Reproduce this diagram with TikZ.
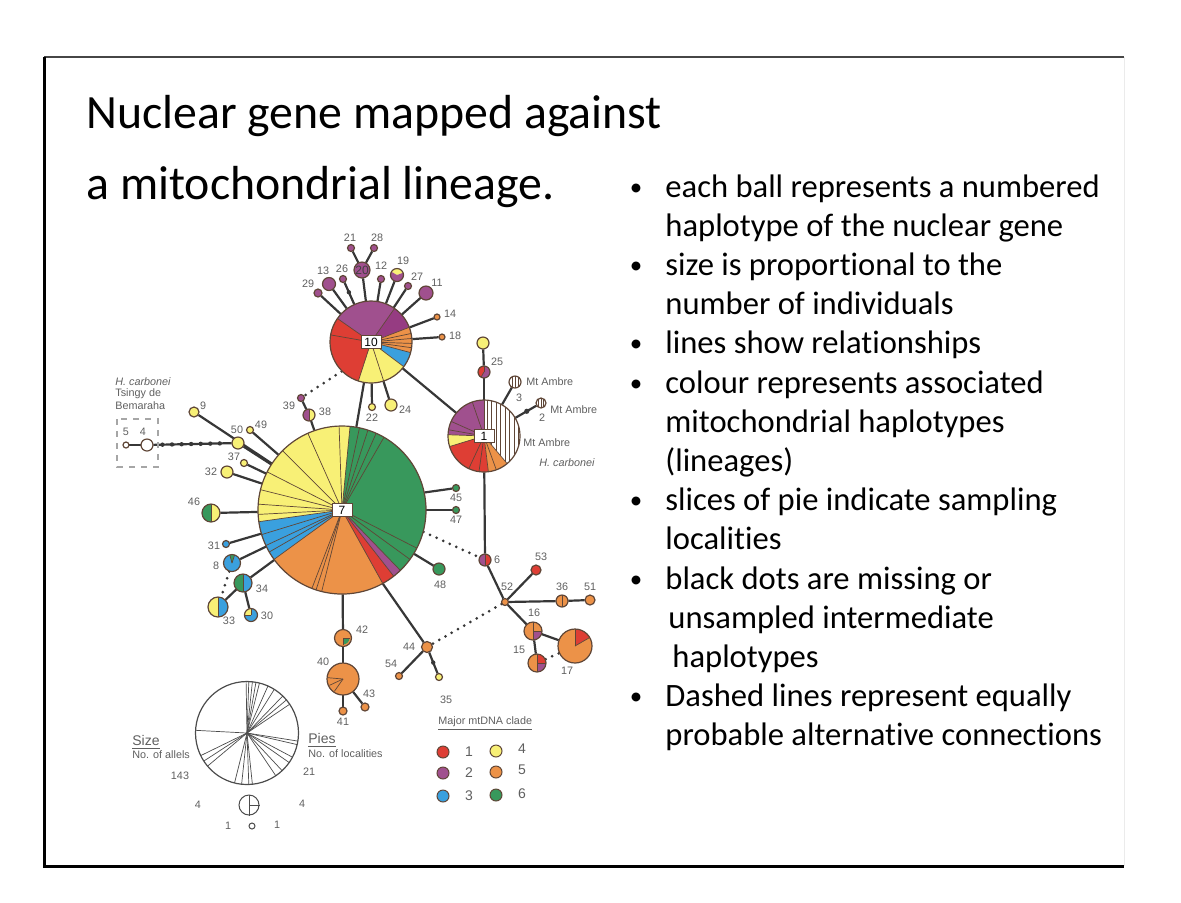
\documentclass[tikz,border=0pt]{standalone}
\usepackage{fontspec}
\setmainfont[Ligatures=NoCommon]{Carlito}
\newfontfamily\diagfont{Liberation Sans}
\usetikzlibrary{calc}
\definecolor{cR}{RGB}{222,62,52}
\definecolor{cP}{RGB}{160,80,142}
\definecolor{cPd}{RGB}{150,60,130}
\definecolor{cB}{RGB}{58,160,222}
\definecolor{cY}{RGB}{248,240,118}
\definecolor{cO}{RGB}{236,146,72}
\definecolor{cG}{RGB}{56,152,92}
\definecolor{ol}{RGB}{95,70,55}
\definecolor{lc}{RGB}{55,55,55}
\definecolor{tg}{RGB}{95,95,95}
\definecolor{topline}{RGB}{70,70,70}
\newcommand\hpie[3]{\foreach \a/\b/\cc in {#3}{\fill[\cc] (#1.center) -- ++(\a:#2) arc[start angle=\a,end angle=\b,radius=#2] -- cycle;}}
\newcommand\hrays[3]{\foreach \a in {#3}{\draw[ray] (#1.center) -- ++(\a:#2);}}
\newcommand\hring[2]{\draw[ring] (#1.center) circle[radius=#2];}
\begin{document}
\begin{tikzpicture}[x=0.5pt,y=0.5pt,
 hap/.style={circle,inner sep=0pt,minimum size=#1pt},
 con/.style={draw=lc,line width=1.1pt},
 dots/.style={draw=lc,line width=1.5pt,line cap=round,dash pattern=on 0pt off 3.6pt},
 ray/.style={draw=ol,line width=0.35pt},
 ring/.style={draw=ol,line width=0.6pt},
 lab/.style={font=\diagfont\fontsize{5.4}{6}\selectfont,text=tg,inner sep=0pt},
 bdot/.style={circle,fill=lc,inner sep=0pt,minimum size=2.2pt},
 hbox/.style={draw=ol,fill=white,line width=0.5pt,inner sep=0pt,minimum width=10pt,minimum height=6.5pt,font=\diagfont\fontsize{6}{6}\selectfont},
 bul/.style={anchor=base west,inner sep=0pt,font=\fontsize{16.3}{19.6}\selectfont},
 bulmark/.style={anchor=base,inner sep=0pt,font=\fontsize{12.5}{15}\selectfont},
 ttl/.style={anchor=base west,inner sep=0pt,font=\fontsize{23.9}{28}\selectfont},
 key/.style={circle,inner sep=0pt,minimum size=6pt,draw=ol,line width=0.5pt},
 keyt/.style={font=\diagfont\fontsize{7}{8}\selectfont,text=tg,inner sep=0pt},
]
\useasboundingbox (0,0) rectangle (1181,-902);
% slide frame
\draw[line width=1pt,topline] (44,-57) -- (1124,-57);
\draw[line width=1.5pt] (44,-56.5) -- (44,-866) -- (1124,-866);
\draw[line width=0.5pt,black!8] (1124,-57) -- (1124,-866);
% title
\node[ttl] (title1) at (86,-128) {Nuclear gene mapped against};
\node[ttl] (title2) at (86,-199) {a mitochondrial lineage.};
% bullets
\foreach \i/\y in {1/195,3/273.4,5/351.8,6/391,9/508.6,11/587,14/704.6}
  \node[bulmark] (bu\i) at (636,-\y) {•};
\node[bul] (t1) at (665,-197) {each ball represents a numbered};
\node[bul] (t2) at (665,-236.2) {haplotype of the nuclear gene};
\node[bul] (t3) at (665,-275.4) {size is proportional to the};
\node[bul] (t4) at (665,-314.6) {number of individuals};
\node[bul] (t5) at (665,-353.8) {lines show relationships};
\node[bul] (t6) at (665,-393) {colour represents associated};
\node[bul] (t7) at (665,-432.2) {mitochondrial haplotypes};
\node[bul] (t8) at (665,-471.4) {(lineages)};
\node[bul] (t9) at (665,-510.6) {slices of pie indicate sampling};
\node[bul] (t10) at (665,-549.8) {localities};
\node[bul] (t11) at (665,-589) {black dots are missing or};
\node[bul] (t12) at (668,-628.2) {unsampled intermediate};
\node[bul] (t13) at (672,-667.4) {haplotypes};
\node[bul] (t14) at (665,-706.6) {Dashed lines represent equally};
\node[bul] (t15) at (665,-745.8) {probable alternative connections};
% ---------- haplotype nodes ----------
\node[hap=84] (n7) at (342,-510) {};
\node[hap=41] (n10) at (371,-342) {};
\node[hap=36] (n1) at (484,-436) {};
\node[hap=4] (n29) at (318,-293) {};
\node[hap=6.5] (n13) at (329,-284) {};
\node[hap=3.5] (n26) at (343,-279) {};
\node[hap=8] (n20) at (362,-270) {};
\node[hap=3.5] (n21) at (351,-248) {};
\node[hap=3.5] (n28) at (374,-248) {};
\node[hap=3.5] (n12) at (381,-279) {};
\node[hap=6.5] (n19) at (397,-275) {};
\node[hap=3.5] (n27) at (408,-286) {};
\node[hap=7] (n11) at (426,-293) {};
\node[hap=3] (n14) at (437,-317) {};
\node[hap=3] (n18) at (442,-337) {};
\node[hap=3.5] (n22) at (372,-407) {};
\node[hap=6] (n24) at (391,-405) {};
\node[hap=3.5] (n39) at (301,-398) {};
\node[hap=6] (n38) at (309,-415) {};
\node[hap=6] (n3) at (515,-382) {};
\node[hap=5] (n2) at (541,-403) {};
\node[hap=6] (n25) at (484,-372) {};
\node[hap=6] (n25a) at (483,-343) {};
\node[hap=6] (n6) at (485,-560) {};
\node[hap=3.5] (n45) at (456,-488) {};
\node[hap=3.5] (n47) at (456,-510) {};
\node[hap=6] (n48) at (439,-569) {};
\node[hap=3.5] (n52) at (505,-602) {};
\node[hap=5] (n53) at (536,-570) {};
\node[hap=6] (n36) at (562,-601) {};
\node[hap=5] (n51) at (590,-600) {};
\node[hap=9] (n16) at (533,-631) {};
\node[hap=9] (n15) at (537,-663) {};
\node[hap=17] (n17) at (575,-646) {};
\node[hap=5.5] (n44) at (427,-647) {};
\node[hap=3.5] (n54) at (399,-676) {};
\node[hap=3.5] (n35) at (439,-677) {};
\node[hap=8.5] (n42) at (343,-638) {};
\node[hap=16] (n40) at (343,-679) {};
\node[hap=4] (n41) at (343,-711) {};
\node[hap=4] (n43) at (365,-707) {};
\node[hap=9] (n46) at (211,-513) {};
\node[hap=3.5] (n31) at (226,-544) {};
\node[hap=8.5] (n8) at (232,-563) {};
\node[hap=9] (n34) at (243,-583) {};
\node[hap=10] (n33) at (218,-607) {};
\node[hap=6.5] (n30) at (251,-615) {};
\node[hap=6] (n32) at (227,-472) {};
\node[hap=3.5] (n37) at (244,-463) {};
\node[hap=6] (n50) at (238,-443) {};
\node[hap=3.5] (n49) at (250,-430) {};
\node[hap=5] (n9) at (194,-412) {};
\node[hap=6] (n4) at (147,-445) {};
\node[hap=3] (n5) at (126,-445) {};
% ---------- connectors ----------
\foreach \t in {n29,n13,n26,n20,n12,n19,n27,n11,n14,n18,n22,n24}
  \draw[con] (n10) -- (\t);
\draw[con] (n20) -- (n21);
\draw[con] (n20) -- (n28);
\draw[con] (n10) -- (n7);
\draw[con] (n10) -- (n1);
\draw[dots] (n10.225) -- (n39);
\draw[con] (n39) -- (n38);
\draw[con] (n38) -- (n7);
\draw[con] (n1) -- (n3);
\draw[con] (n1) -- (n2);
\draw[con] (n1) -- (n25);
\draw[con] (n25) -- (n25a);
\draw[con] (n1) -- (n6);
\draw[con] (n7.12) -- (n45);
\draw[con] (n7) -- (n47);
\draw[con] (n7) -- (n48);
\draw[dots] (n7.-15) -- (n6);
\draw[con] (n7.-61) -- (n44);
\draw[con] (n7) -- (n42);
\draw[con] (n42) -- (n40);
\draw[con] (n40) -- (n41);
\draw[con] (n40) -- (n43);
\foreach \t in {n46,n31,n8,n34,n32,n37,n50,n49,n9}
  \draw[con] (n7) -- (\t);
\draw[con] (n34) -- (n33);
\draw[con] (n34) -- (n30);
\draw[dots] (n8) -- (n33);
\draw[con] (n6) -- (n52);
\draw[con] (n52) -- (n53);
\draw[con] (n52) -- (n36);
\draw[con] (n36) -- (n51);
\draw[con] (n52) -- (n16);
\draw[con] (n16) -- (n15);
\draw[con] (n16) -- (n17);
\draw[dots] (n15) -- (n17);
\draw[dots] (n52) -- (n44);
\draw[con] (n44) -- (n54);
\draw[con] (n44) -- (n35);
\draw[con] (n4) -- (n50);
\draw[con,line width=0.8pt] (n5) -- (n4);
% missing intermediate haplotypes (black dots)
\node[bdot] (m1) at ($(n10)!0.79!(n26)$) {};
\node[bdot,minimum size=2.6pt] (m2) at ($(n1)!0.75!(n2)$) {};
\node[bdot] (m3) at ($(n44)!0.52!(n35)$) {};
\foreach \f [count=\k] in {0.17,0.275,0.38,0.485,0.59,0.695,0.80}
  \node[bdot] (mm\k) at ($(n4)!\f!(n50)$) {};
% ---------- pies ----------
\hpie{n7}{84}{84.5/188/cY,188/216/cB,216/299/cO,299/308/cR,308/314/cP,314/444.5/cG}
\hrays{n7}{84}{84.5,188,216,299,308,314,92,114,135,153,166,176,183,197,205,210,249,252,256,60,66,72,78,324,333}
\hring{n7}{84}
\hpie{n10}{41}{55/145/cP,21/55/cPd,-15/21/cO,-37/-15/cB,-108/-37/cY,145/252/cR}
\hrays{n10}{41}{55,145,21,-15,-37,-108,170,12,5,-2,-8,-72}
\hring{n10}{41}
\hpie{n1}{36}{90/178/cP,178/197/cY,197/277/cR,277/310/cO,310/450/white}
\hrays{n1}{36}{90,109,156,170,178,197,245,262,277,290,310}
\begin{scope}
 \clip (n1.center) -- ++(310:36) arc[start angle=310,end angle=450,radius=36] -- cycle;
 \foreach \x in {487,491.5,...,522} \draw[ray,line width=0.5pt] (\x,-395) -- (\x,-478);
\end{scope}
\hring{n1}{36}
\foreach \t/\r in {n29/4,n13/6.5,n26/3.5,n20/8,n21/3.5,n28/3.5,n12/3.5,n27/3.5,n11/7,n39/3.5}
  {\hpie{\t}{\r}{0/360/cP}\hring{\t}{\r}}
\foreach \t/\r in {n14/3,n18/3,n52/3.5,n51/5,n44/5.5,n54/3.5,n41/4,n43/4}
  {\hpie{\t}{\r}{0/360/cO}\hring{\t}{\r}}
\foreach \t/\r in {n22/3.5,n24/6,n25a/6,n35/3.5,n32/6,n37/3.5,n50/6,n49/3.5,n9/5}
  {\hpie{\t}{\r}{0/360/cY}\hring{\t}{\r}}
\foreach \t/\r in {n45/3.5,n47/3.5,n48/6}
  {\hpie{\t}{\r}{0/360/cG}\hring{\t}{\r}}
\hpie{n53}{5}{0/360/cR}\hring{n53}{5}
\hpie{n31}{3.5}{0/360/cB}\hring{n31}{3.5}
\hpie{n19}{6.5}{20/150/cY,150/380/cP}\hring{n19}{6.5}
\hpie{n38}{6}{90/270/cP,270/450/cY}\hrays{n38}{6}{90,270}\hring{n38}{6}
\hpie{n25}{6}{90/240/cR,240/450/cP}\hrays{n25}{6}{90,240}\hring{n25}{6}
\hpie{n6}{6}{90/270/cP,270/450/cR}\hrays{n6}{6}{90,270}\hring{n6}{6}
\hpie{n36}{6}{0/360/cO}\hrays{n36}{6}{90,270}\hring{n36}{6}
\hpie{n16}{9}{0/270/cO,270/360/cP}\hrays{n16}{9}{0,90,270}\hring{n16}{9}
\hpie{n15}{9}{0/90/cR,90/270/cO,270/360/cP}\hrays{n15}{9}{0,90,270}\hring{n15}{9}
\hpie{n17}{17}{30/90/cR,90/390/cO}\hrays{n17}{17}{30,90}\hring{n17}{17}
\hpie{n42}{8.5}{0/360/cO}\hpie{n42}{6.5}{-90/0/cG}\hrays{n42}{6.5}{0,-90}\hring{n42}{8.5}
\hpie{n40}{16}{0/360/cO}\hrays{n40}{15}{175,205,235}\hring{n40}{16}
\hpie{n46}{9}{90/270/cG,270/450/cY}\hrays{n46}{9}{90,270}\hring{n46}{9}
\hpie{n8}{8.5}{0/360/cB,72/105/cG}\hrays{n8}{8.5}{72,105}\hring{n8}{8.5}
\hpie{n34}{9}{90/270/cG,270/450/cB}\hrays{n34}{9}{90,270}\hring{n34}{9}
\hpie{n33}{10}{90/270/cY,270/450/cB}\hrays{n33}{10}{90,270}\hring{n33}{10}
\hpie{n30}{6.5}{0/360/cB,90/180/cY}\hrays{n30}{6.5}{90,180}\hring{n30}{6.5}
\foreach \t/\r in {n3/6,n2/5,n4/6,n5/3}{\hpie{\t}{\r}{0/360/white}}
\begin{scope}\clip (n3.center) circle[radius=6];
 \foreach \x in {-3,0,3} \draw[ray,line width=0.5pt] ($(n3.center)+(\x,-7)$) -- ++(0,14);
\end{scope}
\begin{scope}\clip (n2.center) circle[radius=5];
 \foreach \x in {-2.5,0,2.5} \draw[ray,line width=0.5pt] ($(n2.center)+(\x,-6)$) -- ++(0,12);
\end{scope}
\foreach \t/\r in {n3/6,n2/5,n4/6,n5/3}{\hring{\t}{\r}}
% boxes on large pies
\node[hbox] (b7) at (n7) {7};
\node[hbox] (b10) at (n10) {10};
\node[hbox] (b1) at (n1) {1};
\node[font=\diagfont\fontsize{6}{6}\selectfont,text=black!75,inner sep=0pt] (b20) at (n20) {20};
% ---------- labels ----------
\node[lab] (l21) at (350,-238) {21};
\node[lab] (l28) at (377,-238) {28};
\node[lab] (l13) at (323,-271) {13};
\node[lab] (l26) at (342,-269) {26};
\node[lab] (l12) at (381,-266) {12};
\node[lab] (l19) at (403,-261) {19};
\node[lab] (l27) at (417,-277) {27};
\node[lab] (l11) at (437,-283) {11};
\node[lab] (l29) at (308,-284) {29};
\node[lab] (l14) at (450,-314) {14};
\node[lab] (l18) at (455,-336) {18};
\node[lab] (l22) at (372,-418) {22};
\node[lab] (l24) at (405,-410) {24};
\node[lab] (l39) at (289,-406) {39};
\node[lab] (l38) at (325,-412) {38};
\node[lab] (l25) at (497,-362) {25};
\node[lab] (l3) at (519,-398) {3};
\node[lab,anchor=west] (lm3) at (526,-382) {Mt Ambre};
\node[lab] (l2) at (542,-418) {2};
\node[lab,anchor=west] (lm2) at (550,-410) {Mt Ambre};
\node[lab,anchor=west] (lm1) at (523,-443) {Mt Ambre};
\node[lab,anchor=west] (lhc) at (539,-463) {\itshape H. carbonei};
\node[lab] (l45) at (456,-498) {45};
\node[lab] (l47) at (456,-520) {47};
\node[lab] (l48) at (440,-585) {48};
\node[lab] (l6) at (497,-560) {6};
\node[lab] (l53) at (541,-557) {53};
\node[lab] (l52) at (507,-587) {52};
\node[lab] (l36) at (562,-587) {36};
\node[lab] (l51) at (590,-587) {51};
\node[lab] (l16) at (534,-613) {16};
\node[lab] (l15) at (519,-650) {15};
\node[lab] (l17) at (567,-671) {17};
\node[lab] (l44) at (409,-647) {44};
\node[lab] (l54) at (391,-664) {54};
\node[lab] (l35) at (446,-700) {35};
\node[lab] (l42) at (362,-630) {42};
\node[lab] (l40) at (323,-662) {40};
\node[lab] (l43) at (369,-694) {43};
\node[lab] (l41) at (343,-722) {41};
\node[lab] (l46) at (194,-502) {46};
\node[lab] (l31) at (214,-546) {31};
\node[lab] (l8) at (216,-566) {8};
\node[lab] (l34) at (262,-589) {34};
\node[lab] (l33) at (229,-621) {33};
\node[lab] (l30) at (267,-616) {30};
\node[lab] (l32) at (211,-472) {32};
\node[lab] (l37) at (234,-457) {37};
\node[lab] (l50) at (237,-430) {50};
\node[lab] (l49) at (261,-425) {49};
\node[lab] (l9) at (203,-406) {9};
\node[lab] (l5) at (126,-432) {5};
\node[lab] (l4) at (143,-432) {4};
\node[lab,anchor=west] (hc1) at (115,-382) {\itshape H. carbonei};
\node[lab,anchor=west] (hc2) at (115,-394) {Tsingy de};
\node[lab,anchor=west] (hc3) at (115,-406) {Bemaraha};
\draw[draw=black!35,line width=0.6pt,dash pattern=on 3pt off 3pt] (117,-419) rectangle (158,-467);
% ---------- size / pies legend ----------
\node[hap=103] (kbig) at (247,-733) {};
\foreach \a in {91,88,84,80,76,66,58,46,40,34,-9,-13,-28,-35,-47,-56,-84,-88,-96,-104,177,206,213,220}
  \draw[draw=black!70,line width=0.35pt] (kbig.center) -- ++(\a:51.5);
\draw[draw=black!70,line width=0.6pt] (kbig.center) circle[radius=51.5];
\node[hap=10,draw=black!70,line width=0.5pt] (kcross) at (249,-805) {};
\draw[draw=black!70,line width=0.5pt] (kcross.north) -- (kcross.south);
\draw[draw=black!70,line width=0.5pt] (kcross.center) -- (kcross.east);
\node[hap=3,draw=black!70,line width=0.5pt] (ksmall) at (252,-826) {};
\node[keyt,anchor=west] (ksize) at (132,-742) {\underline{Size}};
\node[lab,anchor=west] (kalle) at (132,-755) {No. of allels};
\node[lab] (k143) at (180,-776) {143};
\node[keyt,anchor=west] (kpies) at (308,-740) {\underline{Pies}};
\node[lab,anchor=west] (kloc) at (308,-754) {No. of localities};
\node[lab] (k21) at (309,-772) {21};
\node[lab] (k4a) at (198,-805) {4};
\node[lab] (k4b) at (302,-804) {4};
\node[lab] (k1a) at (228,-826) {1};
\node[lab] (k1b) at (277,-825) {1};
% ---------- clade legend ----------
\node[lab,anchor=west] (kmaj) at (438,-724) {\underline{Major mtDNA clade}};
\node[key,fill=cR] (c1) at (443,-752) {};
\node[key,fill=cP] (c2) at (443,-773) {};
\node[key,fill=cB] (c3) at (443,-796) {};
\node[key,fill=cY] (c4) at (496,-751) {};
\node[key,fill=cO] (c5) at (496,-772) {};
\node[key,fill=cG] (c6) at (496,-795) {};
\node[keyt] (ct1) at (469,-752) {1};
\node[keyt] (ct2) at (469,-773) {2};
\node[keyt] (ct3) at (469,-796) {3};
\node[keyt] (ct4) at (522,-749) {4};
\node[keyt] (ct5) at (522,-770) {5};
\node[keyt] (ct6) at (522,-794) {6};
\end{tikzpicture}
\end{document}
